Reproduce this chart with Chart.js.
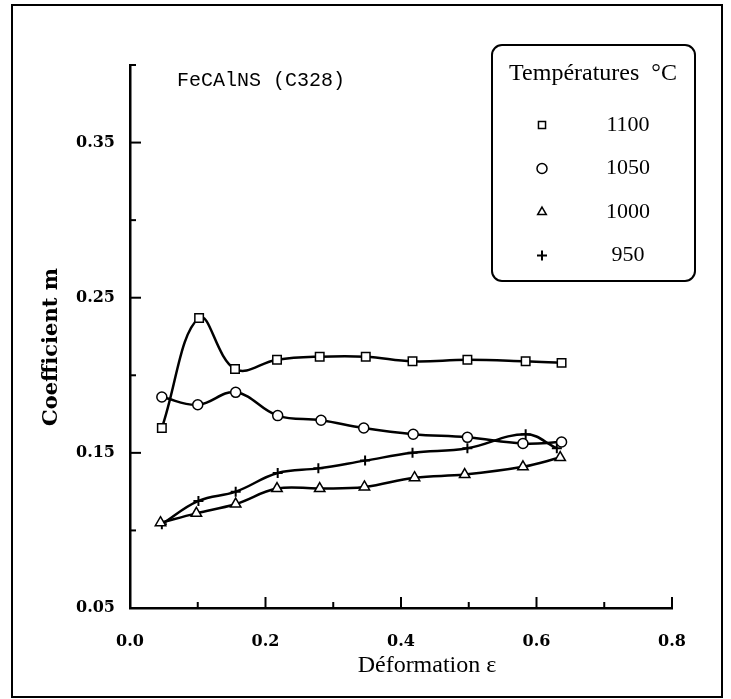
<!DOCTYPE html>
<html>
<head>
<meta charset="utf-8">
<script src="https://cdn.jsdelivr.net/npm/chart.js@4.4.1/dist/chart.umd.min.js"></script>
<style>
    html, body { margin: 0; background: #fff; }
    canvas { display: block; }
</style>
</head>
<body>
<canvas id="mchart" width="731" height="699"></canvas>
<script>
// values
const temps = ['1100', '1050', '1000', '950'];
const strain1100 = [0.047, 0.102, 0.155, 0.217, 0.280, 0.348, 0.417, 0.498, 0.584, 0.637];
const m1100 = [0.166, 0.237, 0.204, 0.210, 0.212, 0.212, 0.209, 0.210, 0.209, 0.208];
const strain1050 = [0.047, 0.100, 0.156, 0.218, 0.282, 0.345, 0.418, 0.498, 0.580, 0.637];
const m1050 = [0.186, 0.181, 0.189, 0.174, 0.171, 0.166, 0.162, 0.160, 0.156, 0.157];
const strain1000 = [0.045, 0.098, 0.156, 0.217, 0.280, 0.346, 0.420, 0.494, 0.580, 0.635];
const m1000 = [0.105, 0.111, 0.117, 0.127, 0.127, 0.128, 0.134, 0.136, 0.141, 0.147];
const strain950 = [0.047, 0.101, 0.156, 0.218, 0.278, 0.347, 0.417, 0.498, 0.584, 0.630];
const m950 = [0.104, 0.119, 0.125, 0.137, 0.140, 0.145, 0.150, 0.153, 0.162, 0.153];
const xTickLabels = ['0.0', '0.2', '0.4', '0.6', '0.8'];
const yTickLabels = ['0.05', '0.15', '0.25', '0.35'];
const markers = ['rect', 'circle', 'triangle', 'cross'];
const markerSize = [6, 5, 6, 5];

const TITLE = 'FeCAlNS (C328)';
const X_TITLE = 'Déformation ε';
const Y_TITLE = 'Coefficient m';
const LEGEND_TITLE = 'Températures  °C';

const series = [[strain1100, m1100], [strain1050, m1050], [strain1000, m1000], [strain950, m950]];

const labelFor = (list, v) => list.find((l) => Math.abs(parseFloat(l) - v) < 1e-6) || '';

const datasets = series.map(([xs, ys], i) => ({
    label: temps[i],
    data: xs.map((x, k) => ({ x, y: ys[k] })),
    showLine: true,
    tension: 0.4,
    borderColor: '#000',
    borderWidth: 2.5,
    pointStyle: markers[i],
    pointRadius: markerSize[i],
    pointBorderWidth: markers[i] === 'cross' ? 2 : 1.5,
    pointBackgroundColor: '#fff',
    pointBorderColor: '#000',
}));

// frame, inward ticks, texts and the boxed legend
const paper = {
    id: 'paper',
    afterDraw(chart) {
        const { ctx, chartArea: a, scales: { x, y } } = chart;
        ctx.save();
        ctx.strokeStyle = '#000';
        ctx.fillStyle = '#000';

        ctx.lineWidth = 2;
        ctx.strokeRect(12, 5, 710, 692);

        ctx.lineWidth = 2;
        x.ticks.forEach((t) => {
            const px = x.getPixelForValue(t.value);
            const len = labelFor(xTickLabels, t.value) ? 11 : 6;
            ctx.beginPath(); ctx.moveTo(px, a.bottom); ctx.lineTo(px, a.bottom - len); ctx.stroke();
        });
        y.ticks.forEach((t) => {
            const py = y.getPixelForValue(t.value);
            const len = labelFor(yTickLabels, t.value) ? 11 : 6;
            ctx.beginPath(); ctx.moveTo(a.left, py); ctx.lineTo(a.left + len, py); ctx.stroke();
        });
        ctx.beginPath(); ctx.moveTo(a.left, a.top); ctx.lineTo(a.left + 6, a.top); ctx.stroke();

        ctx.font = '20px "Liberation Mono"';
        ctx.textAlign = 'left'; ctx.textBaseline = 'middle';
        ctx.fillText(TITLE, 177, 81);

        ctx.font = '24px "Liberation Serif"';
        ctx.textAlign = 'center';
        ctx.fillText(X_TITLE, 427, 666);

        ctx.save();
        ctx.translate(52, 347);
        ctx.rotate(-Math.PI / 2);
        ctx.font = 'bold 21px "DejaVu Serif"';
        ctx.fillText(Y_TITLE, 0, 0);
        ctx.restore();

        // legend box
        const bx = 492, by = 45, bw = 203, bh = 236;
        ctx.lineWidth = 2;
        ctx.beginPath(); ctx.roundRect(bx, by, bw, bh, 10); ctx.stroke();
        ctx.font = '24px "Liberation Serif"';
        ctx.fillText(LEGEND_TITLE, 593, 74);
        ctx.font = '22px "Liberation Serif"';
        chart.data.datasets.forEach((ds, i) => {
            const ry = 125 + i * 43.5;
            ctx.fillStyle = '#fff';
            ctx.lineWidth = ds.pointStyle === 'cross' ? 2 : 1.5;
            Chart.helpers.drawPoint(ctx, { pointStyle: ds.pointStyle, radius: 5, rotation: 0, borderWidth: ctx.lineWidth }, 542, ry);
            ctx.fillStyle = '#000';
            ctx.fillText(ds.label, 628, ry);
        });
        ctx.restore();
    },
};

new Chart(document.getElementById('mchart'), {
    type: 'scatter',
    data: { datasets },
    plugins: [paper],
    options: {
        responsive: false,
        animation: false,
        devicePixelRatio: 1,
        layout: { padding: { left: 0, top: 65, right: 59, bottom: 0 } },
        plugins: { legend: { display: false }, tooltip: { enabled: false } },
        scales: {
            x: {
                type: 'linear', min: 0, max: 0.8,
                grid: { display: false },
                border: { display: true, color: '#000', width: 2.5 },
                ticks: {
                    stepSize: 0.1, autoSkip: false, maxRotation: 0, padding: 16, color: '#000',
                    font: { family: '"DejaVu Serif"', size: 16, weight: 'bold' },
                    callback: (v) => labelFor(xTickLabels, v),
                },
                afterFit: (s) => { s.height = 91; },
            },
            y: {
                type: 'linear', min: 0.05, max: 0.40,
                grid: { display: false },
                border: { display: true, color: '#000', width: 2.5 },
                ticks: {
                    stepSize: 0.05, autoSkip: false, padding: 7, color: '#000',
                    font: { family: '"DejaVu Serif"', size: 16, weight: 'bold' },
                    callback: (v) => labelFor(yTickLabels, v),
                },
                afterFit: (s) => { s.width = 130; },
            },
        },
    },
});
</script>
</body>
</html>
